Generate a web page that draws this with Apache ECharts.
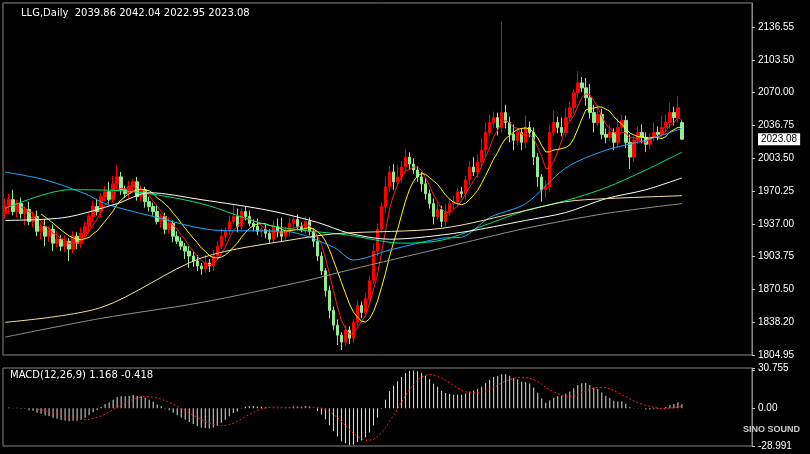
<!DOCTYPE html>
<html>
<head>
<meta charset="utf-8">
<script src="https://cdn.jsdelivr.net/npm/echarts@6/dist/echarts.min.js"></script>
<style>html,body{margin:0;background:#000}#main{width:810px;height:454px}</style>
</head>
<body>
<div id="main"></div>
<script>
// 收盘价，开盘取前一根收盘
var closes = [1955,1962,1950,1958,1948, 1952,1940,1945,1930,1935, 1925,1932,1918,1922,1915, 1920,1912,1925,1918,1928,
  1935,1945,1955,1950,1965, 1970,1962,1978,1985,1972, 1968,1975,1980,1965,1972, 1960,1955,1950,1940,1945,
  1932,1938,1925,1920,1915, 1910,1905,1900,1895,1892, 1898,1895,1905,1915,1925, 1930,1940,1945,1935,1950,
  1945,1938,1935,1930,1932, 1928,1922,1935,1930,1925, 1930,1938,1942,1935,1932, 1940,1930,1920,1905,1890,
  1870,1850,1835,1825,1818, 1830,1822,1838,1855,1848, 1862,1880,1910,1932,1955, 1975,1990,1980,1985,1995,
  2005,1998,1992,1985,1978, 1968,1958,1945,1952,1940, 1950,1958,1960,1970,1968, 1982,1995,1990,2000,2012,
  2030,2040,2045,2035,2050, 2040,2028,2022,2030,2020, 2035,2030,2005,1985,1972, 1975,2030,2040,2035,2030,
  2045,2055,2070,2080,2075, 2065,2050,2040,2048,2028, 2025,2030,2020,2035,2042, 2020,2005,2022,2030,2025,
  2018,2025,2030,2028,2035, 2040,2050,2045,2055,2023.08];
var firstOpen = 1948;
var lastOpen = 2039.86;
// 上影线 / 下影线长度
var wickUp = [8,6,10,4,6, 3,8,5,6,4, 7,3,5,8,4, 6,3,5,4,6, 5,3,6,8,4, 6,10,8,12,5, 4,6,3,5,4, 3,5,4,6,3,
  4,6,3,5,4, 3,5,4,6,3, 8,4,6,5,8, 4,6,12,8,4, 5,6,4,8,3, 5,4,6,8,14, 4,6,3,5,4, 5,4,3,5,4,
  3,5,4,6,3, 5,4,3,5,4, 6,5,8,6,4, 10,6,8,12,6, 8,5,6,4,5, 6,4,5,6,4, 8,5,6,4,5, 4,6,10,8,12,
  10,8,6,5,92, 8,6,10,5,4, 12,6,5,4,3, 6,8,12,6,10, 10,6,4,12,6, 10,14,8,10,6, 6,8,4,10,6, 5,8,4,6,8,
  5,4,10,6,12, 8,10,6,12,2.18];
var wickDn = [5,8,4,6,5, 12,4,6,5,8, 10,6,8,4,5, 6,12,4,6,5, 4,6,5,4,6, 5,4,3,6,5, 4,5,6,4,5, 6,5,4,3,6,
  5,4,6,3,4, 8,12,6,5,6, 4,6,5,4,3, 5,4,3,6,5, 4,3,5,4,6, 5,4,3,6,5, 4,5,6,4,3, 5,4,6,5,4,
  6,8,5,10,8, 4,6,5,4,6, 5,4,3,5,4, 6,5,8,4,6, 5,6,4,5,8, 6,5,8,4,6, 5,4,6,5,4, 6,5,4,6,5,
  6,4,5,8,6, 6,8,10,5,8, 6,5,8,10,12, 8,5,4,6,4, 5,4,6,5,4, 8,6,10,4,5, 6,4,8,5,4, 6,12,5,4,6,
  8,5,4,6,5, 4,6,8,5,0.13];
// 长周期均线（从图上估读，分段点）
var maBlue = {0:1990,10:1982,20:1968,25:1958,36:1946,53:1931,70:1930,82:1914,87:1901,96:1911,109:1923,114:1924,121:1944,130:1958,140:1994,150:2012,160:2022,169:2034};
var maGreen = {0:1953,16:1972,32:1970,49:1958,66:1936,86:1926,99:1918,109:1921,121:1938,130:1951,140:1961,150:1974,160:1992,169:2010};
var maWhite = {0:1941,15:1944,28:1958,36:1969,49:1962,66:1951,78:1939,86:1928,96:1922,114:1929,130:1941,140:1949,150:1963,160:1972,169:1984};
var maBeige = {0:1838,24:1853,49:1903,74:1923,84:1928,109:1933,130:1951,140:1960,150:1963,169:1966};
var maGray = {0:1823,24:1842,49:1858,74:1879,86:1891,109:1913,130:1933,150:1948,169:1958};
var tickLabels = ['1804.95','1838.20','1870.50','1903.75','1937.00','1970.25','2003.50','2036.75','2070.00','2103.50','2136.55'];
var macdLabels = ['-28.991','0.00','30.755'];
var emptyRight = 17; // 右侧空白K线位

var n = closes.length;
var cats = [], ohlc = [];
for (var i = 0; i < n + emptyRight; i++) cats.push(i);
for (var i = 0; i < n; i++) {
  var o = i == 0 ? firstOpen : (i == n - 1 ? lastOpen : closes[i - 1]);
  var c = closes[i];
  ohlc.push([o, c, Math.min(o, c) - wickDn[i], Math.max(o, c) + wickUp[i]]);
}
function ma(p) {
  var r = [];
  for (var i = 0; i < n; i++) {
    if (i < p - 1) { r.push(null); continue; }
    var s = 0;
    for (var j = 0; j < p; j++) s += closes[i - j];
    r.push(+(s / p).toFixed(2));
  }
  return r;
}
function sparse(m) {
  var r = [];
  for (var i = 0; i < n; i++) r.push(m[i] === undefined ? null : m[i]);
  return r;
}
function ema(arr, p) {
  var k = 2 / (p + 1), r = [arr[0]];
  for (var i = 1; i < arr.length; i++) r.push(arr[i] * k + r[i - 1] * (1 - k));
  return r;
}
var e12 = ema(closes, 12), e26 = ema(closes, 26);
var macd = e12.map(function (v, i) { return +(v - e26[i]).toFixed(3); });
var signal = macd.map(function (v, i) {
  if (i < 8) return null;
  var s = 0;
  for (var j = 0; j < 9; j++) s += macd[i - j];
  return +(s / 9).toFixed(3);
});

function line(data, color, connect, type) {
  return { type: 'line', data: data, symbol: 'none', connectNulls: !!connect, smooth: connect ? 0.3 : false,
    lineStyle: { color: color, width: 1, type: type || 'solid' }, silent: true };
}

var myChart = echarts.init(document.getElementById('main'));
myChart.setOption({
  backgroundColor: '#000',
  animation: false,
  title: [
    { text: 'LLG,Daily  2039.86 2042.04 2022.95 2023.08', left: 16, top: 3, textStyle: { color: '#fff', fontSize: 10, fontWeight: 'normal', fontFamily: 'DejaVu Sans' } },
    { text: 'MACD(12,26,9) 1.168 -0.418', left: 5, top: 365, textStyle: { color: '#fff', fontSize: 10, fontWeight: 'normal', fontFamily: 'DejaVu Sans' } },
    { text: 'SINO SOUND', left: 738, top: 420, textStyle: { color: '#ccc', fontSize: 9, fontWeight: 'bold' } }
  ],
  grid: [
    { left: 3, right: 58, top: 3, bottom: 99, show: true, borderColor: '#888', borderWidth: 1 },
    { left: 3, right: 58, top: 368, height: 78, show: true, borderColor: '#888', borderWidth: 1 }
  ],
  xAxis: [
    { type: 'category', data: cats, gridIndex: 0, show: false },
    { type: 'category', data: cats, gridIndex: 1, show: false }
  ],
  yAxis: [
    { gridIndex: 0, position: 'right', min: 1804.95, max: 2160.8, interval: 33.16, splitLine: { show: false },
      axisLine: { show: true, lineStyle: { color: '#888' } }, axisTick: { show: true, length: 3, lineStyle: { color: '#ccc' } },
      axisLabel: { color: '#fff', fontSize: 10, margin: 6, showMaxLabel: false, formatter: function (v) {
        var k = Math.round((v - 1804.95) / 33.16); return tickLabels[k] || ''; } } },
    { gridIndex: 1, position: 'right', min: -28.991, max: 30.755, interval: 28.991, splitLine: { show: false },
      axisLine: { show: true, lineStyle: { color: '#888' } }, axisTick: { show: true, length: 3, lineStyle: { color: '#ccc' } },
      axisLabel: { color: '#fff', fontSize: 10, margin: 6, showMinLabel: true, showMaxLabel: true, formatter: function (v) {
        if (Math.abs(v) < 0.01) return macdLabels[1];
        if (v < -28) return macdLabels[0];
        if (v > 30) return macdLabels[2];
        return ''; } } }
  ],
  series: [
    { type: 'candlestick', data: ohlc, barWidth: 3, clip: false,
      itemStyle: { color: '#ff0000', color0: '#90ee90', borderColor: '#ff0000', borderColor0: '#90ee90' },
      markLine: { symbol: 'none', silent: true, animation: false, data: [{ yAxis: 2023.08 }],
        lineStyle: { color: '#000', width: 0 },
        label: { show: true, position: 'end', formatter: '2023.08', color: '#000', backgroundColor: '#fff', fontSize: 10, padding: [1, 3], distance: 6 } } },
    line(ma(5), '#ff2020'),
    line(ma(10), '#ffff00'),
    line(sparse(maBlue), '#1eaaff', true),
    line(sparse(maGreen), '#00e676', true),
    line(sparse(maWhite), '#ffffff', true),
    line(sparse(maBeige), '#f5e6a0', true),
    line(sparse(maGray), '#909090', true),
    { type: 'bar', xAxisIndex: 1, yAxisIndex: 1, data: macd, barWidth: 1, itemStyle: { color: '#e0e0e0' }, silent: true },
    { type: 'line', xAxisIndex: 1, yAxisIndex: 1, data: signal, symbol: 'none', silent: true,
      lineStyle: { color: '#ff2020', width: 1, type: [2, 2] } }
  ]
});
</script>
</body>
</html>
